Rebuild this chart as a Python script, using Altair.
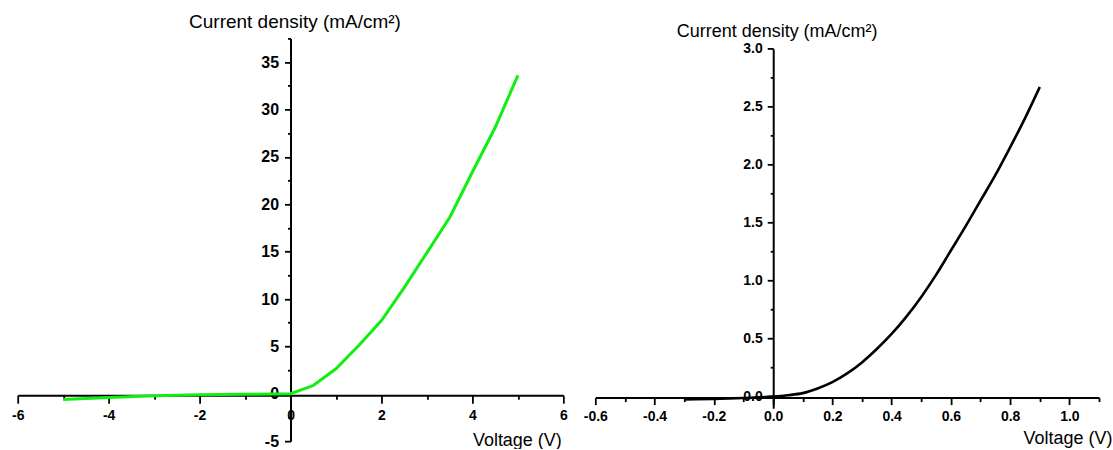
import altair as alt
import pandas as pd

# ---- data ----
left_v = [-5, -4, -3, -2, -1, 0, 0.5, 1, 1.5, 2, 2.5, 3, 3.5, 4, 4.5, 5]
left_j = [-0.6, -0.4, -0.2, -0.1, -0.05, 0, 0.87, 2.64, 5.1, 7.73, 11.2, 14.9, 18.6, 23.4, 28.1, 33.6]

right_v = [-0.3, -0.2, -0.1, 0.0, 0.05, 0.1, 0.15, 0.2, 0.25, 0.3, 0.35, 0.4, 0.45,
           0.5, 0.55, 0.6, 0.65, 0.7, 0.75, 0.8, 0.85, 0.9]
right_j = [-0.025, -0.02, -0.012, 0.0, 0.012, 0.03, 0.07, 0.125, 0.2, 0.295, 0.41, 0.54, 0.69,
           0.86, 1.05, 1.26, 1.47, 1.69, 1.91, 2.15, 2.40, 2.67]

left_x_ticks = [-6, -5, -4, -3, -2, -1, 0, 1, 2, 3, 4, 5, 6]
left_y_ticks = [-5, -2.5, 0, 2.5, 5, 7.5, 10, 12.5, 15, 17.5, 20, 22.5, 25, 27.5, 30, 32.5, 35, 37.5]
right_x_ticks = [-0.6, -0.5, -0.4, -0.3, -0.2, -0.1, 0.0, 0.1, 0.2, 0.3, 0.4, 0.5,
                 0.6, 0.7, 0.8, 0.9, 1.0, 1.1]
right_y_ticks = [0.0, 0.25, 0.5, 0.75, 1.0, 1.25, 1.5, 1.75, 2.0, 2.25, 2.5, 2.75, 3.0]

y_title = "Current density (mA/cm\u00b2)"
x_title = "Voltage (V)"

df_left = pd.DataFrame({"V": left_v, "J": left_j})
df_right = pd.DataFrame({"V": right_v, "J": right_j})

FONT = "Liberation Sans"


def axis(values, offset, label_expr, major_test, major_size, minor_size, label_size,
         title, title_x, title_y, title_size, label_padding):
    return alt.Axis(
        values=values,
        offset=offset,
        labelExpr=label_expr,
        tickSize={"condition": {"test": major_test, "value": major_size}, "value": minor_size},
        tickWidth=1.8,
        tickColor="black",
        domainColor="black",
        domainWidth=2,
        grid=False,
        labelFont=FONT,
        labelFontWeight="bold",
        labelFontSize=label_size,
        labelColor="black",
        labelFlush=False,
        labelOverlap=False,
        labelPadding=label_padding,
        title=title,
        titleFont=FONT,
        titleFontWeight="normal",
        titleFontSize=title_size,
        titleColor="black",
        titleAngle=0,
        titleAlign="left",
        titleBaseline="alphabetic",
        titleX=title_x,
        titleY=title_y,
    )


left = alt.Chart(df_left).mark_line(color="#11ee11", strokeWidth=3).encode(
    x=alt.X("V:Q",
            scale=alt.Scale(domain=[-6, 6], nice=False, zero=False),
            axis=axis(left_x_ticks, -46,
                      "datum.value % 2 == 0 ? '' + datum.value : ''",
                      "datum.value % 2 == 0", 8, 4, 14,
                      x_title, 455, 50, 18, 5)),
    y=alt.Y("J:Q",
            scale=alt.Scale(domain=[-5, 37.5], nice=False, zero=False),
            axis=axis(left_y_ticks, -273,
                      "datum.value % 5 == 0 ? '' + datum.value : ''",
                      "datum.value % 5 == 0", 6, 3, 16,
                      y_title, -102, -11, 19, 6)),
).properties(width=546, height=403)

right = alt.Chart(df_right).mark_line(color="black", strokeWidth=2.6, interpolate="monotone").encode(
    x=alt.X("V:Q",
            scale=alt.Scale(domain=[-0.6, 1.1], nice=False, zero=False),
            axis=axis(right_x_ticks, -10.6,
                      "abs(round(datum.value*10)) % 2 == 0 ? (datum.value < 0 ? '-' : '') + format(abs(datum.value), '.1f') : ''",
                      "abs(round(datum.value*10)) % 2 == 0", 7, 4, 14,
                      x_title, 428, 46, 18, 5)),
    y=alt.Y("J:Q",
            scale=alt.Scale(domain=[-0.1, 3.0], nice=False, zero=False, range=[370, 10.4]),
            axis=axis(right_y_ticks, -178,
                      "abs(round(datum.value*4)) % 2 == 0 ? format(datum.value, '.1f') : ''",
                      "abs(round(datum.value*4)) % 2 == 0", 6, 3, 14,
                      y_title, -97, -1.6, 18, 5)),
).properties(width=504, height=370)

chart = alt.hconcat(left, right, spacing=32, bounds="flush").configure_view(
    stroke=None
).properties(
    padding={"left": 10.7, "top": 12.3, "right": 0, "bottom": 0},
    background="white",
)

chart.save("out.html", embed_options={"renderer": "svg", "actions": False})
